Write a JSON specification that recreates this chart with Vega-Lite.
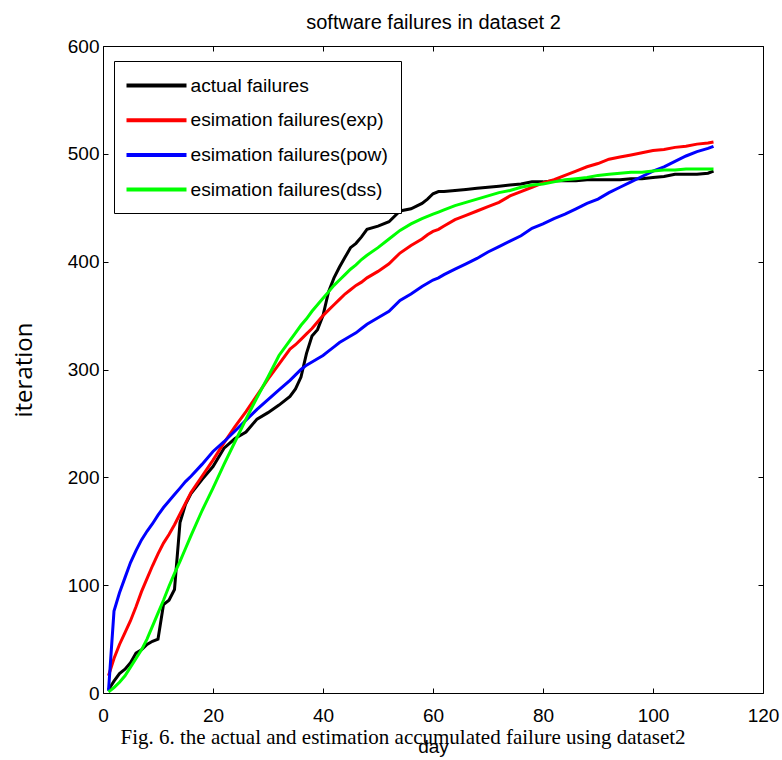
{
  "$schema": "https://vega.github.io/schema/vega-lite/v6.json",
  "width": 660,
  "height": 647,
  "autosize": {"type": "none"},
  "padding": {"left": 103, "top": 46, "right": 19, "bottom": 67},
  "background": "white",
  "title": {
    "text": "Fig. 6. the actual and estimation accumulated failure using dataset2",
    "orient": "bottom",
    "anchor": "middle",
    "font": "Liberation Serif",
    "fontSize": 21,
    "fontWeight": "normal",
    "color": "black",
    "offset": -29,
    "dx": -30
  },
  "config": {
    "view": {"stroke": null},
    "axis": {
      "grid": false,
      "domainColor": "black",
      "domainWidth": 1,
      "tickColor": "black",
      "tickWidth": 1,
      "labelColor": "black",
      "titleColor": "black",
      "labelFont": "Liberation Sans",
      "titleFont": "Liberation Sans",
      "titleFontWeight": "normal",
      "labelFlush": false,
      "labelOverlap": false
    }
  },
  "data": {
    "values": [
      {"day": 1, "actual": 3, "exp": 16, "pow": 2, "dss": 1},
      {"day": 2, "actual": 11, "exp": 32, "pow": 76, "dss": 5},
      {"day": 3, "actual": 18, "exp": 45, "pow": 93, "dss": 10},
      {"day": 4, "actual": 22, "exp": 56, "pow": 107, "dss": 16},
      {"day": 5, "actual": 28, "exp": 67, "pow": 121, "dss": 24},
      {"day": 6, "actual": 37, "exp": 80, "pow": 132, "dss": 32},
      {"day": 7, "actual": 40, "exp": 94, "pow": 142, "dss": 40},
      {"day": 8, "actual": 45, "exp": 106, "pow": 150, "dss": 50},
      {"day": 9, "actual": 48, "exp": 118, "pow": 157, "dss": 62},
      {"day": 10, "actual": 50, "exp": 129, "pow": 165, "dss": 74},
      {"day": 11, "actual": 82, "exp": 139, "pow": 172, "dss": 86},
      {"day": 12, "actual": 86, "exp": 147, "pow": 178, "dss": 99},
      {"day": 13, "actual": 96, "exp": 156, "pow": 184, "dss": 111},
      {"day": 14, "actual": 158, "exp": 166, "pow": 190, "dss": 122},
      {"day": 15, "actual": 175, "exp": 176, "pow": 196, "dss": 134},
      {"day": 16, "actual": 185, "exp": 186, "pow": 201, "dss": 146},
      {"day": 18, "actual": 198, "exp": 201, "pow": 212, "dss": 169},
      {"day": 20, "actual": 210, "exp": 216, "pow": 224, "dss": 190},
      {"day": 22, "actual": 227, "exp": 232, "pow": 233, "dss": 212},
      {"day": 24, "actual": 236, "exp": 247, "pow": 243, "dss": 233},
      {"day": 26, "actual": 242, "exp": 261, "pow": 253, "dss": 254},
      {"day": 28, "actual": 254, "exp": 276, "pow": 263, "dss": 274},
      {"day": 30, "actual": 260, "exp": 291, "pow": 272, "dss": 293},
      {"day": 32, "actual": 267, "exp": 305, "pow": 281, "dss": 313},
      {"day": 34, "actual": 275, "exp": 319, "pow": 290, "dss": 327},
      {"day": 35, "actual": 282, "exp": 323, "pow": 295, "dss": 334},
      {"day": 36, "actual": 293, "exp": 328, "pow": 300, "dss": 341},
      {"day": 37, "actual": 315, "exp": 333, "pow": 304, "dss": 347},
      {"day": 38, "actual": 331, "exp": 338, "pow": 307, "dss": 354},
      {"day": 39, "actual": 337, "exp": 344, "pow": 310, "dss": 360},
      {"day": 40, "actual": 350, "exp": 350, "pow": 313, "dss": 366},
      {"day": 41, "actual": 372, "exp": 355, "pow": 317, "dss": 372},
      {"day": 42, "actual": 385, "exp": 360, "pow": 321, "dss": 378},
      {"day": 43, "actual": 395, "exp": 365, "pow": 325, "dss": 383},
      {"day": 44, "actual": 404, "exp": 370, "pow": 328, "dss": 388},
      {"day": 45, "actual": 413, "exp": 374, "pow": 331, "dss": 393},
      {"day": 46, "actual": 417, "exp": 378, "pow": 334, "dss": 397},
      {"day": 47, "actual": 423, "exp": 381, "pow": 338, "dss": 402},
      {"day": 48, "actual": 430, "exp": 385, "pow": 342, "dss": 406},
      {"day": 50, "actual": 433, "exp": 391, "pow": 348, "dss": 413},
      {"day": 52, "actual": 437, "exp": 398, "pow": 354, "dss": 421},
      {"day": 54, "actual": 447, "exp": 408, "pow": 364, "dss": 429},
      {"day": 56, "actual": 449, "exp": 415, "pow": 370, "dss": 435},
      {"day": 58, "actual": 454, "exp": 421, "pow": 377, "dss": 440},
      {"day": 59, "actual": 458, "exp": 425, "pow": 380, "dss": 442},
      {"day": 60, "actual": 463, "exp": 428, "pow": 383, "dss": 444},
      {"day": 61, "actual": 465, "exp": 430, "pow": 385, "dss": 446},
      {"day": 62, "actual": 465, "exp": 433, "pow": 388, "dss": 448},
      {"day": 64, "actual": 466, "exp": 439, "pow": 393, "dss": 452},
      {"day": 66, "actual": 467, "exp": 443, "pow": 398, "dss": 455},
      {"day": 68, "actual": 468, "exp": 447, "pow": 403, "dss": 458},
      {"day": 70, "actual": 469, "exp": 451, "pow": 409, "dss": 461},
      {"day": 72, "actual": 470, "exp": 455, "pow": 414, "dss": 464},
      {"day": 74, "actual": 471, "exp": 461, "pow": 419, "dss": 466},
      {"day": 76, "actual": 472, "exp": 465, "pow": 424, "dss": 469},
      {"day": 78, "actual": 474, "exp": 469, "pow": 431, "dss": 471},
      {"day": 80, "actual": 474, "exp": 473, "pow": 435, "dss": 472},
      {"day": 82, "actual": 475, "exp": 476, "pow": 440, "dss": 474},
      {"day": 84, "actual": 475, "exp": 480, "pow": 444, "dss": 476},
      {"day": 86, "actual": 475, "exp": 484, "pow": 449, "dss": 477},
      {"day": 88, "actual": 476, "exp": 488, "pow": 454, "dss": 478},
      {"day": 90, "actual": 476, "exp": 491, "pow": 458, "dss": 480},
      {"day": 92, "actual": 476, "exp": 495, "pow": 464, "dss": 481},
      {"day": 94, "actual": 476, "exp": 497, "pow": 469, "dss": 482},
      {"day": 96, "actual": 477, "exp": 499, "pow": 474, "dss": 483},
      {"day": 98, "actual": 477, "exp": 501, "pow": 479, "dss": 483},
      {"day": 100, "actual": 478, "exp": 503, "pow": 484, "dss": 484},
      {"day": 102, "actual": 479, "exp": 504, "pow": 488, "dss": 485},
      {"day": 104, "actual": 481, "exp": 506, "pow": 493, "dss": 485},
      {"day": 106, "actual": 481, "exp": 507, "pow": 498, "dss": 486},
      {"day": 108, "actual": 481, "exp": 509, "pow": 502, "dss": 486},
      {"day": 110, "actual": 482, "exp": 510, "pow": 505, "dss": 486},
      {"day": 111, "actual": 484, "exp": 511, "pow": 507, "dss": 486}
    ]
  },
  "transform": [
    {"fold": ["actual", "exp", "pow", "dss"], "as": ["series", "failures"]}
  ],
  "layer": [
    {
      "mark": {"type": "line", "strokeWidth": 3, "clip": true},
      "encoding": {
        "x": {
          "field": "day",
          "type": "quantitative",
          "scale": {"domain": [0, 120], "nice": false, "zero": false},
          "axis": {
            "orient": "bottom",
            "values": [0, 20, 40, 60, 80, 100, 120],
            "tickSize": -5,
            "labelFontSize": 19,
            "labelPadding": 18,
            "title": "day",
            "titleFontSize": 19,
            "titlePadding": 12
          }
        },
        "y": {
          "field": "failures",
          "type": "quantitative",
          "scale": {"domain": [0, 600], "nice": false},
          "axis": {
            "orient": "left",
            "values": [0, 100, 200, 300, 400, 500, 600],
            "tickSize": -5,
            "labelFontSize": 19,
            "labelPadding": 9,
            "title": "iteration",
            "titleFont": "Open Sans",
            "titleFontSize": 24,
            "titlePadding": 31
          }
        },
        "color": {
          "field": "series",
          "type": "nominal",
          "scale": {
            "domain": ["actual", "exp", "pow", "dss"],
            "range": ["#000000", "#ff0000", "#0000ff", "#00ff00"]
          },
          "legend": {
            "orient": "none",
            "legendX": 11,
            "legendY": 15,
            "title": null,
            "symbolType": "M-3,0H3",
            "symbolSize": 400,
            "symbolStrokeWidth": 4,
            "symbolOffset": 18,
            "labelOffset": 22,
            "labelFont": "Liberation Sans",
            "labelFontSize": 19.2,
            "labelColor": "black",
            "labelLimit": 0,
            "padding": 12.5,
            "rowPadding": 11.7,
            "strokeColor": "black",
            "fillColor": "white",
            "labelExpr": "{'actual': 'actual failures', 'exp': 'esimation failures(exp)', 'pow': 'esimation failures(pow)', 'dss': 'esimation failures(dss)'}[datum.label]"
          }
        }
      }
    },
    {
      "mark": {"type": "point", "opacity": 0},
      "encoding": {
        "x": {
          "field": "day",
          "type": "quantitative",
          "axis": {
            "orient": "top",
            "values": [0, 20, 40, 60, 80, 100, 120],
            "tickSize": -5,
            "labels": false,
            "title": "software failures in dataset 2",
            "titleFontSize": 20,
            "titlePadding": 13
          }
        },
        "y": {
          "field": "failures",
          "type": "quantitative",
          "axis": {
            "orient": "right",
            "values": [0, 100, 200, 300, 400, 500, 600],
            "tickSize": -5,
            "labels": false,
            "title": null
          }
        }
      }
    }
  ],
  "resolve": {"axis": {"x": "independent", "y": "independent"}}
}
